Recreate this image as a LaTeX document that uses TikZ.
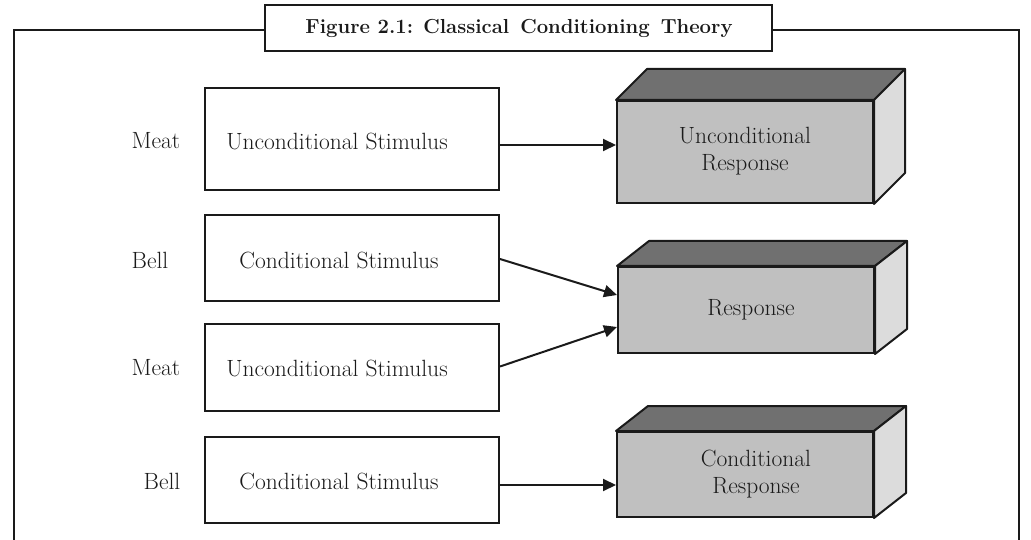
\documentclass[tikz,border=0pt]{standalone}
\usepackage{fontspec}
\usetikzlibrary{arrows.meta}
\definecolor{frontgray}{HTML}{C0C0C0}
\definecolor{topgray}{HTML}{707070}
\definecolor{sidegray}{HTML}{DCDCDC}
\definecolor{ink}{HTML}{1A1A1A}
\begin{document}
\begin{tikzpicture}[x=1pt,y=-1pt,
  line width=2pt,
  every node/.style={text=ink, font=\fontsize{23.5}{27}\selectfont},
  stim/.style={draw=ink, fill=white, minimum width=294pt, inner sep=0pt},
  front/.style={draw=ink, fill=frontgray, minimum width=256pt, inner sep=0pt, align=center},
  lab/.style={inner sep=0pt},
  arr/.style={draw=ink, -{Triangle[length=13pt,width=12pt]}, line width=2pt},
  titlebox/.style={draw=ink, fill=white, minimum width=507pt, minimum height=46pt, inner sep=0pt}
]
\useasboundingbox (0,0) rectangle (1031,540);
% frame
\coordinate (fl) at (14,545);
\coordinate (fr) at (1019,545);
\draw[ink] (fl) -- (14,30) -- (1019,30) -- (fr);
\node[titlebox] (title) at (518.5,28) {};
\node[inner sep=0pt, font=\fontsize{20.3}{24}\bfseries\selectfont] (titletext) at (519,28) {Figure 2.1: Classical\, Conditioning\, Theory};

% stimulus boxes
\node[stim, minimum height=102pt] (s1) at (352,139) {};
\node[stim, minimum height=86pt] (s2) at (352,258) {};
\node[stim, minimum height=87pt] (s3) at (352,367.5) {};
\node[stim, minimum height=86pt] (s4) at (352,480) {};
\node[lab] (t1) at (337,141) {Unconditional Stimulus};
\node[lab] (t2) at (339,260) {Conditional Stimulus};
\node[lab] (t3) at (337,368) {Unconditional Stimulus};
\node[lab] (t4) at (339,481) {Conditional Stimulus};

% side labels
\node[lab] (l1) at (156,141) {Meat};
\node[lab] (l2) at (150,260) {Bell};
\node[lab] (l3) at (156,368) {Meat};
\node[lab] (l4) at (162,481) {Bell};

% 3D boxes: front faces
\node[front, minimum height=102pt] (r1) at (745,152) {};
\node[front, minimum height=86pt] (r2) at (746,310) {};
\node[front, minimum height=85pt] (r3) at (745,474.5) {};
\foreach \r/\dx/\dy in {r1/31/31, r2/32/25, r3/32/25}{
  \draw[ink, fill=topgray, line join=round] (\r.north west) -- ([shift={(\dx,-\dy)}]\r.north west) -- ([shift={(\dx,-\dy)}]\r.north east) -- (\r.north east) -- cycle;
  \draw[ink, fill=sidegray, line join=round] (\r.north east) -- ([shift={(\dx,-\dy)}]\r.north east) -- ([shift={(\dx,-\dy)}]\r.south east) -- (\r.south east) -- cycle;
}
\node[lab, align=center] (rt1) at (745,151) {Unconditional\\Response};
\node[lab] (rt2) at (751,310) {Response};
\node[lab, align=center] (rt3) at (756,474) {Conditional\\Response};

% arrows
\coordinate (a1) at ([yshift=-6pt]s1.east);
\draw[arr] (a1) -- (a1 -| r1.west);
\coordinate (a2s) at ([yshift=-1pt]s2.east);
\coordinate (a2e) at ([yshift=15pt]r2.west);
\draw[arr] (a2s) -- (a2e);
\coordinate (a3s) at ([yshift=1pt]s3.east);
\coordinate (a3e) at ([yshift=-17pt]r2.west);
\draw[arr] (a3s) -- (a3e);
\coordinate (a4) at ([yshift=-5pt]s4.east);
\draw[arr] (a4) -- (a4 -| r3.west);
\end{tikzpicture}
\end{document}
